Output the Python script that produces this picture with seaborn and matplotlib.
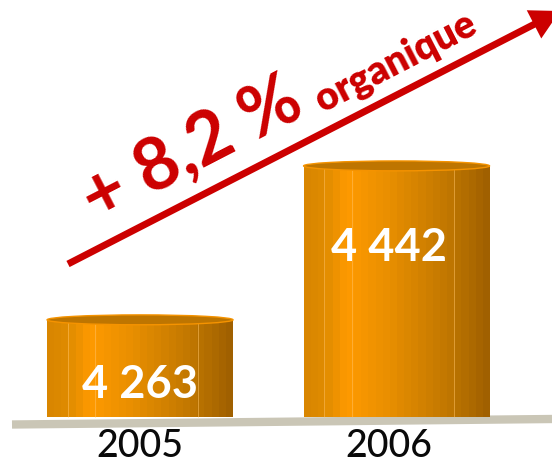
import numpy as np
import pandas as pd
import seaborn as sns
import matplotlib
matplotlib.use("Agg")
import matplotlib.pyplot as plt
from matplotlib.colors import LinearSegmentedColormap
from matplotlib.patches import Ellipse

years = ["2005", "2006"]
revenue = [4263, 4442]
value_labels = ["4 263", "4 442"]
growth_big = "+ 8,2 %"
growth_small = "organique"

sns.set_theme(style="white")
plt.rcParams["font.family"] = ["Lato", "DejaVu Sans"]

W, H = 552, 465
fig = plt.figure(figsize=(W / 100, H / 100), dpi=100)
ax = fig.add_axes([0, 0, 1, 1])

df = pd.DataFrame({"year": years, "revenue": revenue})
sns.barplot(data=df, x="year", y="revenue", color="#E88E00", width=0.725,
            saturation=1, ax=ax, zorder=2, linewidth=0)

ax.set_xlabel("")
ax.set_ylabel("")
ax.set_yticks([])
for s in ax.spines.values():
    s.set_visible(False)
ax.tick_params(axis="x", length=0, pad=-26)
ax.set_xticks([0, 0.97])
ax.set_xticklabels(years, fontsize=27, color="#0a0a0a", fontweight="medium")
for t in ax.get_xticklabels():
    t.set_zorder(10)

base = 4150
cmap = LinearSegmentedColormap.from_list(
    "cyl", [(0, "#D98600"), (0.1, "#E08C00"), (0.22, "#FF9A00"), (0.45, "#E98F00"),
            (0.75, "#C57A00"), (0.9, "#B06C00"), (1, "#A06000")])
grad = np.linspace(0, 1, 26)[None, :]
for bar, val in zip(ax.patches, revenue):
    x0, w = bar.get_x(), bar.get_width()
    bar.set_y(base)
    bar.set_height(val - base)
    im = ax.imshow(grad, cmap=cmap, extent=[x0, x0 + w, base, val], aspect="auto",
                   zorder=3, interpolation="nearest")
    im.set_clip_path(bar)
    ax.vlines([x0 + w * f for f in (0.11, 0.26, 0.81)], base, val, color="#FFC060",
              lw=0.7, alpha=0.55, zorder=3.5)
    ax.add_patch(Ellipse((x0 + w / 2, val), w, 11.5, fc="#BE7500", ec="#F59300", lw=1.0, zorder=4))
ax.set_xlim(-0.546, 1.606)
ax.set_ylim(4094.2, 4634.9)

# value labels
ax.text(0, 4187, value_labels[0], color="white", fontsize=32.5, fontweight="bold",
        ha="center", va="center", zorder=6)
ax.text(0.97, 4347, value_labels[1], color="white", fontsize=32.5, fontweight="bold",
        ha="center", va="center", zorder=6)

# ground
ax.plot([12 / W, 1], [1 - 424.5 / H, 1 - 419 / H], transform=ax.transAxes, color="#CAC6B6",
        lw=6, solid_capstyle="butt", zorder=1)

# growth arrow
ax.annotate("", xy=(560 / W, 1 - 11 / H), xytext=(68 / W, 1 - 264 / H),
            xycoords="axes fraction", textcoords="axes fraction",
            arrowprops=dict(arrowstyle="-|>,head_length=0.7,head_width=0.38", color="#CC0000",
                            lw=5, shrinkA=0, shrinkB=0, mutation_scale=19,
                            capstyle="butt", joinstyle="miter"), zorder=7)
angle = 27.3
ax.text(192 / W, 1 - 150 / H, growth_big, transform=ax.transAxes, color="#CC0000", fontsize=52,
        fontweight="bold", rotation=angle, rotation_mode="anchor", ha="center", va="center")
ax.text(396 / W, 1 - 62 / H, growth_small, transform=ax.transAxes, color="#CC0000", fontsize=28,
        fontweight="heavy", rotation=angle, rotation_mode="anchor", ha="center", va="center")

fig.savefig("out.png", dpi=100, facecolor="white")
